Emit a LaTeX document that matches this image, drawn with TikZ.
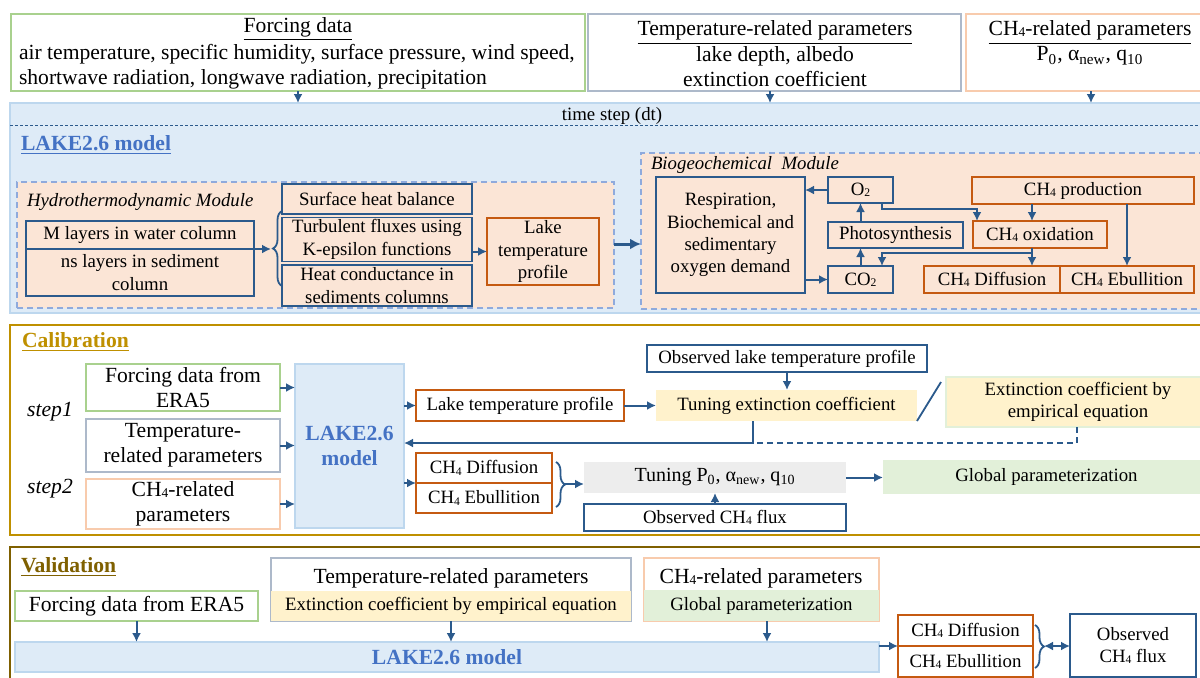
\documentclass[tikz,border=0pt]{standalone}
\usepackage{fontspec}
\setmainfont{Liberation Serif}
\usetikzlibrary{arrows.meta,decorations.pathreplacing}
\definecolor{dblue}{HTML}{2B5A8C}
\definecolor{orng}{HTML}{C55A11}
\definecolor{lorg}{HTML}{FBE5D6}
\definecolor{mbg}{HTML}{DEEBF7}
\definecolor{mbd}{HTML}{BDD7EE}
\definecolor{mdash}{HTML}{8FAADC}
\definecolor{gbd}{HTML}{A9D18E}
\definecolor{tbd}{HTML}{ADB9CA}
\definecolor{cbd}{HTML}{F8CBAD}
\definecolor{yfill}{HTML}{FFF2CC}
\definecolor{gfill}{HTML}{E2F0D9}
\definecolor{grfill}{HTML}{EDEDED}
\definecolor{calcol}{HTML}{BF9000}
\definecolor{valc}{HTML}{7F6000}
\definecolor{lakeblue}{HTML}{4472C4}
\newcommand{\mybox}[7]{\node[#1,minimum width={(#5-#3)*0.5pt},minimum height={(#6-#4)*0.5pt}] (#2) at ({(#3+#5)/2},{(#4+#6)/2}) {#7};}
\newcommand{\chq}{CH\raisebox{-0.15ex}{\scalebox{0.62}{4}}}
\newcommand{\ptext}{P\textsubscript{0}, α\textsubscript{new}, q\textsubscript{10}}
\newcommand{\fs}{\fontsize{9.4}{11.2}\selectfont}
\newcommand{\fb}{\fontsize{10.8}{12.7}\selectfont}
\begin{document}
\begin{tikzpicture}[x=0.5pt,y=-0.5pt,
  bx/.style={rectangle,inner sep=1pt,outer sep=0pt,align=center,font=\fs},
  bb/.style={bx,draw=dblue,line width=0.8pt},
  ob/.style={bx,draw=orng,line width=0.8pt},
  gb/.style={bx,draw=gbd,line width=0.7pt},
  tb/.style={bx,draw=tbd,line width=0.7pt},
  cb/.style={bx,draw=cbd,line width=0.7pt},
  txt/.style={inner sep=0pt,outer sep=0pt,align=center,font=\fs},
  arr/.style={draw=dblue,line width=1pt,-{Latex[length=4.5pt,width=4.5pt]}},
  brc/.style={draw=dblue,line width=0.9pt,decorate,decoration={brace,amplitude=4.5pt}},
  dmod/.style={bx,fill=lorg,draw=mdash,line width=0.6pt,dash pattern=on 3pt off 2pt},
  mdl/.style={bx,fill=mbg,draw=mbd,line width=0.8pt}]
\useasboundingbox (0,0) rectangle (1200,677);
\fill[white] (0,0) rectangle (1200,677);

% ---------- top inputs ----------
\mybox{gb}{force}{11}{14}{585}{91}{}
\node[txt,font=\fb] (forceT) at (298,29) {\underline{Forcing data}};
\node[txt,font=\fb,align=left,anchor=west] (forceB) at (19,66.5) {air temperature, specific humidity, surface pressure, wind speed,\\shortwave radiation, longwave radiation, precipitation};
\mybox{tb}{tpar}{588}{14}{961}{91}{}
\node[txt,font=\fb] (tparT) at (775,54) {\underline{Temperature-related parameters}\\lake depth, albedo\\extinction coefficient};
\mybox{cb}{cpar}{966}{14}{1210}{91}{}
\node[txt,font=\fb] (cparT) at (1090,43) {\underline{\chq-related parameters}\\\ptext};

% ---------- model ----------
\mybox{mdl}{model}{10}{103}{1210}{313}{}
\node[txt] (ts) at (612,116) {time step (dt)};
\draw[dblue,line width=0.5pt,dash pattern=on 1.5pt off 1pt] (model.west |- 0,125) -- (model.east |- 0,125);
\node[txt,font=\fb\bfseries,text=lakeblue,anchor=west] (lakeT) at (21,145) {\underline{LAKE2.6 model}};
\draw[arr] (force.south) -- (force.south |- model.north);
\draw[arr] (tpar.south -| 770,0) -- (model.north -| 770,0);
\draw[arr] (cpar.south -| 1091,0) -- (model.north -| 1091,0);

% hydro
\mybox{dmod}{hydro}{17}{182}{614}{308}{}
\node[txt,font=\fs\itshape,anchor=west] (hydroT) at (27,202) {Hydrothermodynamic Module};
\mybox{bb}{mw}{26}{221}{254}{249}{M layers in water column}
\mybox{bb}{ns}{26}{249}{254}{296}{ns layers in sediment\\column}
\coordinate (hbr) at (271,249);
\draw[arr] (mw.south east) -- (hbr);
\draw[brc] (282,286) -- (282,211);
\mybox{bb}{shb}{282}{184}{472}{214}{Surface heat balance}
\mybox{bb}{tur}{282}{218}{472}{261}{Turbulent fluxes using\\K-epsilon functions}
\mybox{bb}{hc}{282}{265}{472}{306}{Heat conductance in\\sediments columns}
\mybox{ob}{ltp}{487}{218}{599}{285}{Lake\\temperature\\profile}
\draw[arr] (tur.east |- ltp.west) -- (ltp.west);

% bio
\mybox{dmod}{bio}{641}{153}{1210}{309}{}
\draw[draw=dblue,line width=1.5pt,-{Latex[length=5.5pt,width=5.5pt]}] (hydro.east |- 0,244) -- (bio.west |- 0,244);
\node[txt,font=\fs\itshape,anchor=west] (bioT) at (651,165) {Biogeochemical\ \ Module};
\mybox{bb}{resp}{656}{177}{805}{293}{Respiration,\\Biochemical and\\sedimentary\\oxygen demand}
\mybox{bb}{o2}{828}{177}{893}{203}{O\raisebox{-0.15ex}{\scalebox{0.62}{2}}}
\mybox{bb}{ph}{828}{222}{963}{248}{Photosynthesis}
\mybox{bb}{co2}{828}{266}{893}{293}{CO\raisebox{-0.15ex}{\scalebox{0.62}{2}}}
\mybox{ob}{prod}{972}{177}{1194}{204}{\chq{} production}
\mybox{ob}{ox}{973}{221}{1107}{248}{\chq{} oxidation}
\mybox{ob}{dif1}{924}{266}{1060}{293}{\chq{} Diffusion}
\mybox{ob}{ebu1}{1060}{266}{1194}{293}{\chq{} Ebullition}
\draw[arr] (o2.west) -- (o2.west -| resp.east);
\draw[arr] (resp.east |- co2.west) -- (co2.west);
\draw[arr] (co2.north) -- (co2.north |- ph.south);
\draw[arr] (o2.south |- ph.north) -- (o2.south);
\draw[arr] (o2.south -| 882,0) -- ++(0,6) -| (ox.north -| 977,0);
\draw[arr] (prod.south -| 1032,0) -- (ox.north -| 1032,0);
\draw[arr] (prod.south -| 1127,0) -- (ebu1.north -| 1127,0);
\draw[arr] (ox.south -| 1032,0) -- (dif1.north -| 1032,0);
\draw[arr] (ox.south -| 1032,0) -- ++(0,5) -| (co2.north -| 882,0);

% ---------- calibration ----------
\mybox{bx,draw=calcol,line width=0.8pt}{cal}{10}{325}{1210}{535}{}
\node[txt,font=\fb\bfseries,text=calcol,anchor=west] (calT) at (22,342) {\underline{Calibration}};
\node[txt,font=\fb\itshape] (s1) at (50,412) {step1};
\node[txt,font=\fb\itshape] (s2) at (50,489) {step2};
\mybox{gb,font=\fb}{fe}{86}{364}{280}{411}{Forcing data from\\ERA5}
\mybox{tb,font=\fb}{tp}{86}{419}{280}{472}{Temperature-\\related parameters}
\mybox{cb,font=\fb}{cp}{86}{479}{280}{529}{\chq-related\\parameters}
\mybox{mdl,font=\fb\bfseries,text=lakeblue}{lm}{295}{364}{404}{528}{LAKE2.6\\model}
\draw[arr] (fe.east) -- (fe.east -| lm.west);
\draw[arr] (tp.east) -- (tp.east -| lm.west);
\draw[arr] (cp.east) -- (cp.east -| lm.west);
\mybox{ob}{cltp}{416}{390}{624}{421}{Lake temperature profile}
\draw[arr] (lm.east |- cltp.west) -- (cltp.west);
\mybox{bx,fill=yfill}{tec}{656}{390}{917}{421}{Tuning extinction coefficient}
\draw[arr] (cltp.east) -- (tec.west);
\mybox{bb}{olt}{647}{345}{927}{372}{Observed lake temperature profile}
\draw[arr] (olt.south) -- (olt.south |- tec.north);
\draw[dblue,line width=0.9pt] (tec.south east) -- ++(24,-39);
\mybox{bx,fill=yfill,draw=gfill,line width=0.8pt}{eec}{946}{377}{1210}{427}{Extinction coefficient by\\empirical equation}
\coordinate (fb) at (753,443);
\draw[arr] (tec.south -| fb) -- (fb) -- (fb -| lm.east);
\draw[dblue,line width=1pt,dash pattern=on 3pt off 2pt] (eec.south -| 1077,0) -- (fb -| 1077,0) -- (fb);
\mybox{ob}{cdif}{416}{453}{552}{483}{\chq{} Diffusion}
\mybox{ob}{cebu}{416}{483}{552}{513}{\chq{} Ebullition}
\draw[arr] (lm.east |- cdif.south west) -- (cdif.south west);
\draw[brc] (556,462) -- (556,507);
\coordinate (cbr) at (565,484);
\mybox{bx,fill=grfill,font=\fontsize{10}{12}\selectfont}{tp0}{584}{462}{846}{493}{Tuning \ptext}
\draw[arr] (cbr) -- (cbr -| tp0.west);
\mybox{bb}{ocf}{584}{504}{846}{531}{Observed \chq{} flux}
\draw[arr] (ocf.north) -- (tp0.south);
\mybox{bx,fill=gfill}{gp}{883}{460}{1210}{494}{Global parameterization}
\draw[arr] (tp0.east) -- (tp0.east -| gp.west);

% ---------- validation ----------
\mybox{bx,draw=valc,line width=0.8pt}{val}{10}{547}{1210}{690}{}
\node[txt,font=\fb\bfseries,text=valc,anchor=west] (valT) at (21,567) {\underline{Validation}};
\mybox{gb,font=\fb}{vfe}{15}{591}{258}{621}{Forcing data from ERA5}
\mybox{tb}{vtp}{271}{558}{631}{621}{}
\mybox{bx,fill=yfill}{vtpb}{271}{591}{631}{621}{Extinction coefficient by empirical equation}
\node[txt,font=\fb] (vtpT) at (451,578) {Temperature-related parameters};
\mybox{cb}{vcp}{644}{558}{879}{621}{}
\mybox{bx,fill=gfill}{vcpb}{644}{590}{879}{621}{Global parameterization}
\node[txt,font=\fb] (vcpT) at (761,578) {\chq-related parameters};
\mybox{mdl,font=\fb\bfseries,text=lakeblue}{vlm}{15}{642}{879}{672}{LAKE2.6 model}
\draw[arr] (vfe.south) -- (vfe.south |- vlm.north);
\draw[arr] (vtp.south) -- (vtp.south |- vlm.north);
\draw[arr] (vcp.south -| 767,0) -- (vlm.north -| 767,0);
\mybox{ob}{vdif}{898}{615}{1033}{646}{\chq{} Diffusion}
\mybox{ob}{vebu}{898}{646}{1033}{677}{\chq{} Ebullition}
\draw[arr] (vlm.east |- vdif.south west) -- (vdif.south west);
\draw[brc] (1035,625) -- (1035,668);
\coordinate (vbr) at (1044,646);
\mybox{bb}{vobs}{1070}{614}{1196}{677}{Observed\\\chq{} flux}
\draw[draw=dblue,line width=1pt,{Latex[length=4.5pt,width=4.5pt]}-{Latex[length=4.5pt,width=4.5pt]}] (vbr) -- (vbr -| vobs.west);
\end{tikzpicture}
\end{document}
